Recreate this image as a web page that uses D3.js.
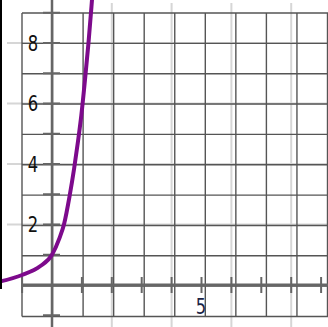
<!DOCTYPE html>
<html><head><meta charset="utf-8">
<script src="https://cdn.jsdelivr.net/npm/d3@7"></script>
<style>html,body{margin:0;padding:0;background:#fff;overflow:hidden}</style>
</head><body>
<svg id="c" width="328" height="327"></svg>
<script>
// data
const curveX = [-1.8, -1.0, -0.4, 0, 0.25, 0.4, 0.59, 0.74, 0.87, 0.98, 1.1, 1.22, 1.32, 1.42];
const curveY = [0.1, 0.33, 0.62, 1.0, 1.55, 2.0, 2.95, 3.85, 4.75, 5.6, 6.75, 8.0, 9.2, 10.5];
const gridValues = [-1, 0, 1, 2, 3, 4, 5, 6, 7, 8, 9];
const lightValues = [2, 4, 6, 8];
const xTickValues = [-1, 1, 2, 3, 4, 5, 6, 7, 8, 9];
const yTickValues = [-1, 1, 2, 3, 4, 5, 6, 7, 8, 9];
const yLabels = [2, 4, 6, 8];
const xLabels = [5];

const svg = d3.select("#c");
const x = d3.scaleLinear().domain([0, 5]).range([52, 201.5]);
const y = d3.scaleLinear().domain([0, 8]).range([285, 43]);
const gx = d3.scaleLinear().domain([-1, 9]).range([22, 327.5]);
const gy = d3.scaleLinear().domain([-1, 9]).range([316.5, 13]);

// light grid
svg.append("g").selectAll("line").data(lightValues).join("line")
  .attr("x1", d => x(d)).attr("x2", d => x(d)).attr("y1", 3).attr("y2", 327)
  .attr("stroke", "#d6d6d6").attr("stroke-width", 2);
svg.append("g").selectAll("line").data(lightValues).join("line")
  .attr("y1", d => y(d)).attr("y2", d => y(d)).attr("x1", 7).attr("x2", 328)
  .attr("stroke", "#d6d6d6").attr("stroke-width", 2);

// dark grid
svg.append("g").selectAll("line").data(gridValues).join("line")
  .attr("x1", d => gx(d)).attr("x2", d => gx(d)).attr("y1", gy(9)).attr("y2", gy(-1))
  .attr("stroke", "#555").attr("stroke-width", 1.4);
svg.append("g").selectAll("line").data(gridValues).join("line")
  .attr("y1", d => gy(d)).attr("y2", d => gy(d)).attr("x1", gx(-1)).attr("x2", 328)
  .attr("stroke", "#555").attr("stroke-width", 1.4);

// axes
svg.append("line").attr("x1", gx(-1)).attr("x2", 328).attr("y1", y(0)).attr("y2", y(0))
  .attr("stroke", "#666").attr("stroke-width", 3);
svg.append("line").attr("x1", x(0)).attr("x2", x(0)).attr("y1", 0).attr("y2", 327)
  .attr("stroke", "#666").attr("stroke-width", 2.5);

// ticks
svg.append("g").selectAll("line").data(xTickValues).join("line")
  .attr("x1", d => x(d)).attr("x2", d => x(d)).attr("y1", y(0) - 8).attr("y2", y(0) + 8)
  .attr("stroke", "#666").attr("stroke-width", 2);
svg.append("g").selectAll("line").data(yTickValues).join("line")
  .attr("y1", d => y(d)).attr("y2", d => y(d)).attr("x1", x(0) - 9).attr("x2", x(0) + 8)
  .attr("stroke", "#666").attr("stroke-width", 2);

// curve
svg.append("defs").append("clipPath").attr("id", "clip")
  .append("rect").attr("x", 0).attr("y", 0).attr("width", 328).attr("height", 327);
const line = d3.line().x((d, i) => x(curveX[i])).y((d, i) => y(curveY[i])).curve(d3.curveMonotoneX);
svg.append("path").datum(curveX).attr("d", line).attr("clip-path", "url(#clip)")
  .attr("fill", "none").attr("stroke", "#7d0a8c").attr("stroke-width", 4).attr("stroke-linecap", "round");

// black left edge
svg.append("rect").attr("x", 0).attr("y", 0).attr("width", 2).attr("height", 289).attr("fill", "#000");

// labels
svg.append("g").selectAll("text").data(yLabels).join("text")
  .attr("transform", d => `translate(33,${y(d) + 7.5}) scale(0.8,1)`)
  .attr("text-anchor", "middle").attr("font-family", "DejaVu Sans").attr("font-size", 20.5)
  .attr("fill", "#111").text(d => d);
svg.append("g").selectAll("text").data(xLabels).join("text")
  .attr("transform", d => `translate(${x(d) - 0.5},313.5) scale(0.8,1)`)
  .attr("text-anchor", "middle").attr("font-family", "DejaVu Sans").attr("font-size", 20.5)
  .attr("fill", "#1a2446").text(d => d);
</script>
</body></html>
